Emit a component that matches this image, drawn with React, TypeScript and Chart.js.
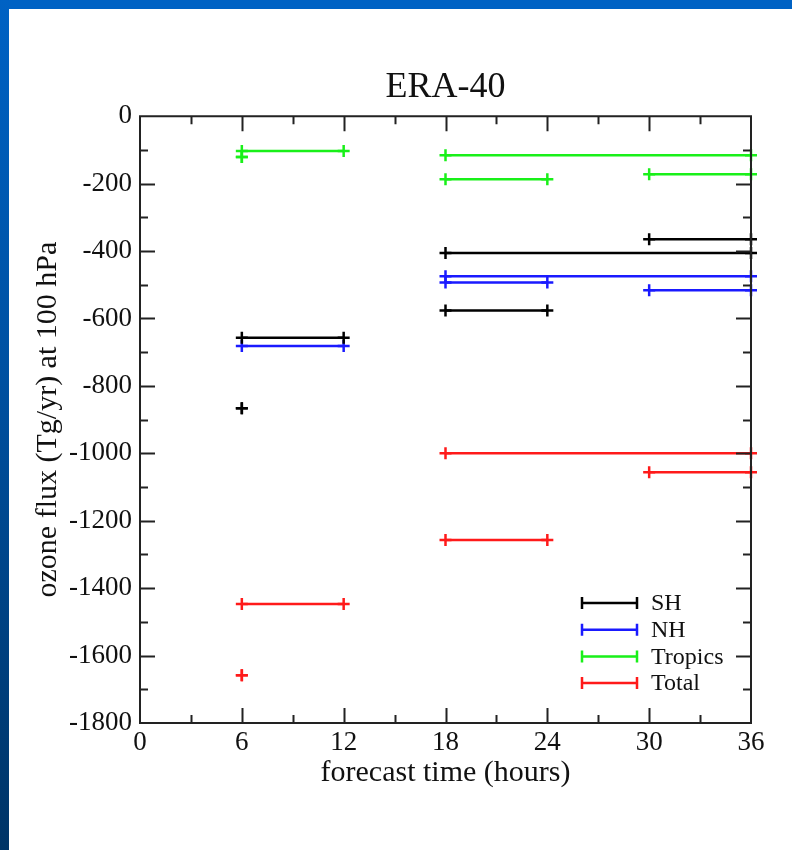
import React, { useEffect, useRef } from "react";
import { Chart, registerables } from "chart.js";

Chart.register(...registerables);

// Each segment: from segStart[i] to segEnd[i] (hours) at a constant value
const segStart = [6, 6, 18, 18, 30];
const segEnd = [6, 12, 24, 36, 36];
const shValues: (number | null)[] = [-866, -657, -576, -406, -365];
const nhValues: (number | null)[] = [null, -682, -493, -475, -516];
const tropicsValues: (number | null)[] = [-121, -103, -187, -116, -172];
const totalValues: (number | null)[] = [-1658, -1447, -1257, -1000, -1056];

const seriesLabels = ["SH", "NH", "Tropics", "Total"];
const seriesColors = ["#000000", "#1a1aff", "#19f019", "#ff1a1a"];
const seriesValues = [shValues, nhValues, tropicsValues, totalValues];

const xTickMin = 0;
const xTickMax = 36;
const xTickStep = 6;
const yTickMin = -1800;
const yTickMax = 0;
const yTickStep = 200;

const SERIF = "'Liberation Serif', 'DejaVu Serif', serif";

function buildPoints(vals: (number | null)[]) {
  const pts: { x: number; y: number | null }[] = [];
  vals.forEach((v, i) => {
    if (v === null) return;
    pts.push({ x: segStart[i], y: v });
    pts.push({ x: segEnd[i], y: v });
    pts.push({ x: segEnd[i], y: null });
  });
  return pts;
}

const framePlugin = {
  id: "frameTicks",
  afterDatasetsDraw(chart: any) {
    const { ctx, chartArea } = chart;
    const { left, right, top, bottom } = chartArea;
    const xs = chart.scales.x;
    const ys = chart.scales.y;
    const major = 15;
    const minor = 8;
    ctx.save();
    ctx.strokeStyle = "#222";
    ctx.lineWidth = 2;
    ctx.beginPath();
    ctx.rect(left, top, right - left, bottom - top);
    ctx.stroke();
    ctx.beginPath();
    for (let v = xTickMin; v <= xTickMax; v += xTickStep / 2) {
      const px = Math.round(xs.getPixelForValue(v)) + 0.5;
      const len = v % xTickStep === 0 ? major : minor;
      if (v === xTickMin || v === xTickMax) continue;
      ctx.moveTo(px, bottom);
      ctx.lineTo(px, bottom - len);
      ctx.moveTo(px, top);
      ctx.lineTo(px, top + len);
    }
    for (let v = yTickMin; v <= yTickMax; v += yTickStep / 2) {
      const py = Math.round(ys.getPixelForValue(v)) + 0.5;
      const len = v % yTickStep === 0 ? major : minor;
      if (v === yTickMin || v === yTickMax) continue;
      ctx.moveTo(left, py);
      ctx.lineTo(left + len, py);
      ctx.moveTo(right, py);
      ctx.lineTo(right - len, py);
    }
    ctx.stroke();
    ctx.restore();
  },
};

const legendPlugin = {
  id: "innerLegend",
  afterDraw(chart: any) {
    const { ctx, chartArea } = chart;
    const x0 = chartArea.right - 169;
    const x1 = chartArea.right - 114;
    const tx = chartArea.right - 100;
    let y = chartArea.bottom - 120;
    ctx.save();
    ctx.font = `24px ${SERIF}`;
    ctx.textBaseline = "middle";
    ctx.textAlign = "left";
    chart.data.datasets.forEach((ds: any) => {
      ctx.strokeStyle = ds.borderColor;
      ctx.lineWidth = 2.5;
      ctx.beginPath();
      ctx.moveTo(x0, y);
      ctx.lineTo(x1, y);
      ctx.moveTo(x0, y - 6);
      ctx.lineTo(x0, y + 6);
      ctx.moveTo(x1, y - 6);
      ctx.lineTo(x1, y + 6);
      ctx.stroke();
      ctx.fillStyle = "#111";
      ctx.fillText(ds.label, tx, y + 1);
      y += 26.7;
    });
    ctx.restore();
  },
};

export default function App() {
  const canvasRef = useRef<HTMLCanvasElement | null>(null);

  useEffect(() => {
    if (!canvasRef.current) return;
    const chart = new Chart(canvasRef.current, {
      type: "line",
      data: {
        datasets: seriesLabels.map((label, i) => ({
          label,
          data: buildPoints(seriesValues[i]) as any,
          borderColor: seriesColors[i],
          backgroundColor: seriesColors[i],
          borderWidth: 2.5,
          pointStyle: "cross",
          pointRadius: 6,
          pointHoverRadius: 6,
          pointBorderWidth: 2.5,
          pointBorderColor: seriesColors[i],
          spanGaps: false,
          tension: 0,
          clip: false as any,
          fill: false,
        })),
      },
      options: {
        responsive: false,
        maintainAspectRatio: false,
        animation: false,
        devicePixelRatio: 1,
        layout: { padding: { left: 20, right: 41, top: 0, bottom: 0 } },
        plugins: {
          legend: { display: false },
          tooltip: { enabled: false },
          title: {
            display: true,
            text: "ERA-40",
            color: "#111",
            fullSize: false,
            font: { family: SERIF, size: 36, weight: "normal" },
            padding: { top: 66, bottom: 7 },
          },
        },
        scales: {
          x: {
            type: "linear",
            min: xTickMin,
            max: xTickMax,
            ticks: {
              stepSize: xTickStep,
              color: "#111",
              font: { family: SERIF, size: 27 },
              padding: 4,
              maxRotation: 0,
              callback: (v: any) => String(v),
            },
            grid: { display: false, drawTicks: false },
            border: { display: false },
            title: {
              display: true,
              text: "forecast time (hours)",
              color: "#111",
              font: { family: SERIF, size: 30 },
              padding: { top: 0, bottom: 59 },
            },
            afterFit: (scale: any) => {
              scale.height = 127;
            },
          },
          y: {
            type: "linear",
            min: yTickMin,
            max: yTickMax,
            ticks: {
              stepSize: yTickStep,
              color: "#111",
              font: { family: SERIF, size: 27 },
              padding: 8,
              callback: (v: any) => String(v),
            },
            grid: { display: false, drawTicks: false },
            border: { display: false },
            title: {
              display: true,
              text: "ozone flux (Tg/yr) at 100 hPa",
              color: "#111",
              font: { family: SERIF, size: 30 },
              padding: { top: 10, bottom: 0 },
            },
            afterFit: (scale: any) => {
              scale.width = 120;
            },
          },
        },
      },
      plugins: [framePlugin, legendPlugin],
    });
    return () => chart.destroy();
  }, []);

  return (
    <div
      style={{
        position: "fixed",
        left: 0,
        top: 0,
        width: 792,
        height: 850,
        background: "#ffffff",
        overflow: "hidden",
      }}
    >
      <div
        style={{
          position: "absolute",
          left: 0,
          top: 0,
          width: 792,
          height: 9,
          background: "#0062c4",
        }}
      />
      <div
        style={{
          position: "absolute",
          left: 0,
          top: 0,
          width: 9,
          height: 850,
          background: "linear-gradient(to bottom, #0062c4 0%, #0050a0 45%, #003466 100%)",
        }}
      />
      <canvas
        ref={canvasRef}
        width={792}
        height={850}
        style={{ position: "absolute", left: 0, top: 0, display: "block" }}
      />
    </div>
  );
}
